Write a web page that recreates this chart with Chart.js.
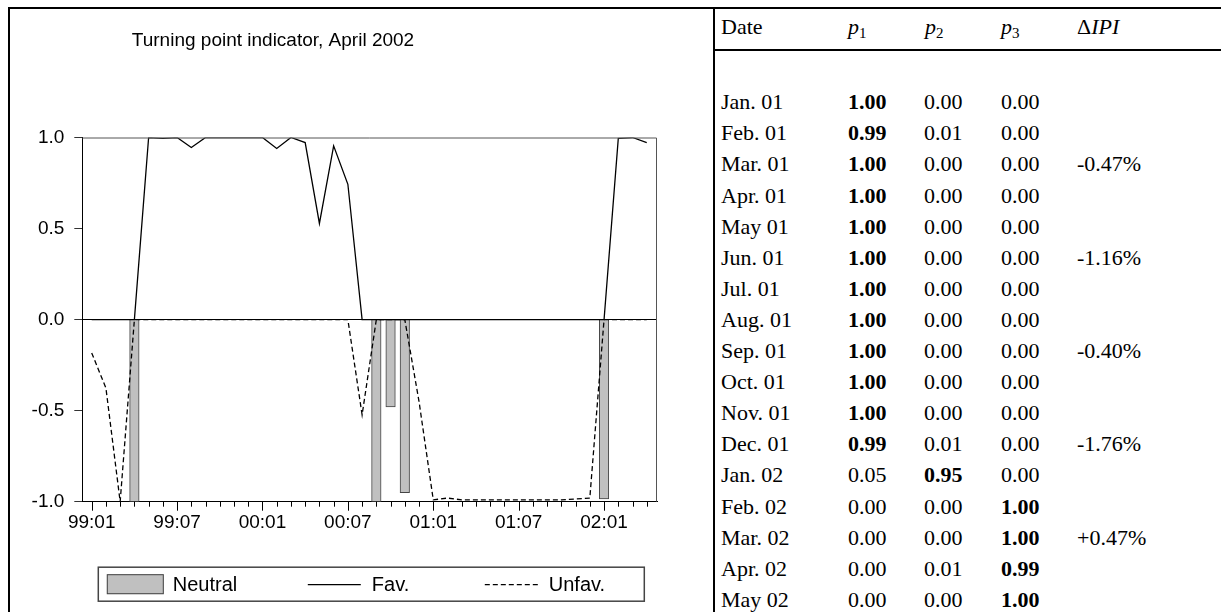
<!DOCTYPE html>
<html>
<head>
<meta charset="utf-8">
<script src="https://cdn.jsdelivr.net/npm/chart.js@4.4.1/dist/chart.umd.min.js"></script>
<style>
  body { margin: 0; background: #fff; }
  #wrap { position: relative; width: 1221px; height: 612px; overflow: hidden; }
  #graph { position: absolute; left: 0; top: 0; }
  .rule { position: absolute; background: #000; }
  .cell { position: absolute; white-space: nowrap; font-family: "Liberation Serif", "Times New Roman", serif;
          font-size: 22px; line-height: 31px; height: 31px; color: #000; }
  .cell sub { font-size: 15px; vertical-align: -4px; line-height: 0; }
</style>
</head>
<body>
<div id="wrap">
  <canvas id="graph" width="714" height="612"></canvas>
  <div class="rule" style="left:8px; top:7px; width:1213px; height:2px;"></div>
  <div class="rule" style="left:8px; top:7px; width:2px; height:605px;"></div>
  <div class="rule" style="left:713px; top:7px; width:2px; height:605px;"></div>
  <div class="rule" style="left:713px; top:49px; width:508px; height:2px;"></div>
  <div id="tbl"></div>
</div>
<script>
// monthly observations 99:01 .. 02:04
var tickLabels = ['99:01', '99:07', '00:01', '00:07', '01:01', '01:07', '02:01'];
var nMonths = 40;

var neutral = [null, null, null, -1.00, null, null, null, null, null, null,
               null, null, null, null, null, null, null, null, null, null,
               -1.00, -0.48, -0.95, null, null, null, null, null, null, null,
               null, null, null, null, null, null, -0.985, null, null, null];

var fav = [0, 0, 0, 0, 1.00, 0.995, 1.00, 0.945, 1.00, 1.00,
           1.00, 1.00, 1.00, 0.94, 1.00, 0.972, 0.528, 0.954, 0.743, 0,
           0, 0, 0, 0, 0, 0, 0, 0, 0, 0,
           0, 0, 0, 0, 0, 0, 0, 0.995, 1.00, 0.972];

var unfav = [-0.183, -0.376, -1.00, 0, 0, 0, 0, 0, 0, 0,
             0, 0, 0, 0, 0, 0, 0, 0, 0, -0.523,
             0, 0, 0, -0.45, -0.99, -0.98, -0.99, -0.99, -0.99, -0.99,
             -0.99, -0.99, -0.99, -0.99, -0.985, -0.98, 0, 0, 0, 0];

// table
var dates = ['Jan. 01', 'Feb. 01', 'Mar. 01', 'Apr. 01', 'May 01', 'Jun. 01', 'Jul. 01', 'Aug. 01',
             'Sep. 01', 'Oct. 01', 'Nov. 01', 'Dec. 01', 'Jan. 02', 'Feb. 02', 'Mar. 02', 'Apr. 02', 'May 02'];
var p1 = [1.00, 0.99, 1.00, 1.00, 1.00, 1.00, 1.00, 1.00, 1.00, 1.00, 1.00, 0.99, 0.05, 0.00, 0.00, 0.00, 0.00];
var p2 = [0.00, 0.01, 0.00, 0.00, 0.00, 0.00, 0.00, 0.00, 0.00, 0.00, 0.00, 0.01, 0.95, 0.00, 0.00, 0.01, 0.00];
var p3 = [0.00, 0.00, 0.00, 0.00, 0.00, 0.00, 0.00, 0.00, 0.00, 0.00, 0.00, 0.00, 0.00, 1.00, 1.00, 0.99, 1.00];
var dIPI = ['', '', '-0.47%', '', '', '-1.16%', '', '', '-0.40%', '', '', '-1.76%', '', '', '+0.47%', '', ''];


function points(arr){
    return arr.map(function(v, i){ return {x: i, y: v}; });
}

var font = {family: '"Liberation Sans", Arial, sans-serif', size: 19};

var frameAndLegend = {
    id: 'frameAndLegend',
    afterDraw(chart){
        var ctx = chart.ctx, a = chart.chartArea, x = chart.scales.x;
        ctx.save();

        // top and right edge of the plot box
        ctx.strokeStyle = '#555';
        ctx.lineWidth = 1;
        ctx.beginPath();
        ctx.moveTo(a.left, a.top + 0.5);
        ctx.lineTo(a.right - 0.5, a.top + 0.5);
        ctx.lineTo(a.right - 0.5, a.bottom);
        ctx.stroke();

        // month ticks, longer every half year
        ctx.strokeStyle = '#000';
        for (var i = 0; i < nMonths; i++) {
            var px = Math.round(x.getPixelForValue(i)) + 0.5;
            ctx.beginPath();
            ctx.moveTo(px, a.bottom);
            ctx.lineTo(px, a.bottom + (i % 6 === 0 ? 9 : 5));
            ctx.stroke();
        }

        // legend box
        var bx = a.left + 16, by = a.bottom + 65.5, bw = 546, bh = 34;
        ctx.strokeStyle = '#444';
        ctx.lineWidth = 1.5;
        ctx.strokeRect(bx, by, bw, bh);

        var cy = by + bh / 2;
        var slots = [8.5, 209.5, 386.5];
        ctx.font = '20px "Liberation Sans", Arial, sans-serif';
        ctx.fillStyle = '#000';
        ctx.textBaseline = 'middle';
        chart.data.datasets.forEach(function(ds, k){
            var sx = bx + slots[k];
            ctx.save();
            if (ds.type === 'bar') {
                ctx.fillStyle = ds.backgroundColor;
                ctx.fillRect(sx, cy - 10, 57, 20);
                ctx.strokeStyle = ds.borderColor;
                ctx.lineWidth = 1;
                ctx.strokeRect(sx + 0.5, cy - 9.5, 56, 19);
                ctx.restore();
                ctx.fillText(ds.label, sx + 66, cy + 1);
            } else {
                ctx.strokeStyle = ds.borderColor;
                ctx.lineWidth = 1.2;
                ctx.setLineDash(ds.borderDash || []);
                ctx.beginPath();
                ctx.moveTo(sx, cy + 0.5);
                ctx.lineTo(sx + 53, cy + 0.5);
                ctx.stroke();
                ctx.restore();
                ctx.fillText(ds.label, sx + 64, cy + 1);
            }
        });
        ctx.restore();
    }
};

var chart = new Chart(document.getElementById('graph').getContext('2d'), {
    data: {
        datasets: [
            {
                type: 'bar',
                label: 'Neutral',
                data: points(neutral),
                backgroundColor: '#c0c0c0',
                borderColor: '#444',
                borderWidth: 1,
                barThickness: 9.5,
                order: 3
            },
            {
                type: 'line',
                label: 'Fav.',
                data: points(fav),
                borderColor: '#000',
                borderWidth: 1.3,
                pointRadius: 0,
                tension: 0,
                order: 2
            },
            {
                type: 'line',
                label: 'Unfav.',
                data: points(unfav),
                borderColor: '#000',
                borderWidth: 1.3,
                borderDash: [5, 3],
                pointRadius: 0,
                tension: 0,
                order: 1
            }
        ]
    },
    options: {
        responsive: false,
        animation: false,
        // negative left padding moves the centred title to the left of the plot centre
        layout: {padding: {left: -111, right: 57, top: 0, bottom: 0}},
        plugins: {
            legend: {display: false},
            tooltip: {enabled: false},
            title: {
                display: true,
                text: 'Turning point indicator, April 2002',
                color: '#000',
                font: {family: '"Liberation Sans", Arial, sans-serif', size: 19, weight: 'normal'},
                padding: {top: 29, bottom: 85.7}
            }
        },
        scales: {
            x: {
                type: 'linear',
                offset: false,
                min: -0.66,
                max: 39.72,
                afterBuildTicks: function(scale){
                    scale.ticks = tickLabels.map(function(t, k){ return {value: k * 6}; });
                },
                ticks: {
                    autoSkip: false,
                    maxRotation: 0,
                    color: '#000',
                    font: font,
                    padding: 1,
                    callback: function(v){ return tickLabels[v / 6]; }
                },
                grid: {offset: false, drawOnChartArea: false, drawTicks: true, tickLength: 9, tickColor: 'rgba(0,0,0,0)'},
                border: {color: '#000', width: 1},
                afterFit: function(scale){ scale.height = 110.3; }
            },
            y: {
                min: -1,
                max: 1,
                ticks: {
                    stepSize: 0.5,
                    color: '#000',
                    font: font,
                    padding: 10,
                    callback: function(v){ return v.toFixed(1); }
                },
                grid: {
                    drawTicks: true,
                    tickLength: 8,
                    tickColor: '#333',
                    color: function(c){ return c.tick && c.tick.value === 0 ? '#000' : 'rgba(0,0,0,0)'; }
                },
                border: {color: '#000', width: 1},
                afterFit: function(scale){ scale.width = 193.3; }
            }
        }
    },
    plugins: [frameAndLegend]
});


// table on the right
function cell(text, left, cy, html){
    var d = document.createElement('div');
    d.className = 'cell';
    d.style.left = left + 'px';
    d.style.top = (cy - 15.5) + 'px';
    if (html) d.innerHTML = text; else d.textContent = text;
    document.getElementById('tbl').appendChild(d);
    return d;
}

var cols = [721, 848, 924, 1001, 1077];
cell('Date', cols[0], 26);
cell('<i>p</i><sub>1</sub>', cols[1], 26, true);
cell('<i>p</i><sub>2</sub>', cols[2] + 1, 26, true);
cell('<i>p</i><sub>3</sub>', cols[3], 26, true);
cell('&Delta;<i>IPI</i>', cols[4], 26, true);

dates.forEach(function(d, r){
    var cy = 101.7 + r * 31.1;
    var vals = [p1[r], p2[r], p3[r]];
    var top = Math.max.apply(null, vals);
    cell(d, cols[0], cy);
    vals.forEach(function(v, k){
        var c = cell(v.toFixed(2), cols[k + 1], cy);
        if (v === top) c.style.fontWeight = 'bold';
    });
    if (dIPI[r]) cell(dIPI[r], cols[4], cy);
});
</script>
</body>
</html>
